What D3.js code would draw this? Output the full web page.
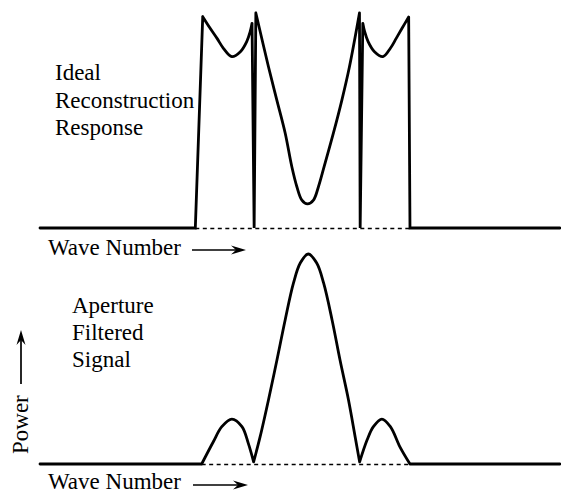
<!DOCTYPE html>
<html>
<head>
<meta charset="utf-8">
<script src="https://cdn.jsdelivr.net/npm/d3@7"></script>
<style>
  body { margin: 0; background: #fff; }
</style>
</head>
<body>
<div id="chart"></div>
<script>
/* ---------- data (wave number in units of the first filter null) ---------- */

var waveRange = [-5.04, 4.77];

// ideal reconstruction response
var reconEdges  = [-2.11, 1.94];   // band edges, where the response jumps off the baseline
var reconNulls  = [-1.0, 1.0];     // spikes that drop back to the baseline
var reconLeftLobe = [
  [-1.97, 0.983], [-1.83, 0.929], [-1.70, 0.882], [-1.58, 0.836], [-1.42, 0.797],
  [-1.26, 0.820], [-1.14, 0.867], [-1.075, 0.913], [-1.04, 0.952]
];
var reconCentre = [
  [-0.968, 1.0], [-0.73, 0.75], [-0.572, 0.595], [-0.415, 0.442], [-0.289, 0.285],
  [-0.194, 0.192], [-0.1, 0.13], [0.006, 0.112], [0.119, 0.13], [0.213, 0.192],
  [0.32, 0.285], [0.496, 0.442], [0.655, 0.595], [0.798, 0.75], [0.987, 1.0]
];
var reconRightLobe = [
  [1.05, 0.952], [1.085, 0.913], [1.15, 0.867], [1.27, 0.820], [1.43, 0.797],
  [1.57, 0.836], [1.68, 0.882], [1.79, 0.929], [1.915, 0.981]
];

// aperture filtered signal
var signalEdges = [-1.99, 1.94];
var signalLeftLobe = [
  [-1.99, 0], [-1.77, 0.106], [-1.61, 0.178], [-1.42, 0.214],
  [-1.23, 0.178], [-1.11, 0.098], [-1.01, 0.01]
];
var signalMainLobe = [
  [-1.01, 0.01], [-0.887, 0.13], [-0.73, 0.305], [-0.57, 0.495], [-0.415, 0.686],
  [-0.26, 0.86], [-0.13, 0.957], [0.02, 1.0], [0.18, 0.957], [0.31, 0.862],
  [0.47, 0.686], [0.62, 0.495], [0.78, 0.305], [0.905, 0.13], [0.99, 0.01]
];
var signalRightLobe = [
  [0.99, 0.01], [1.13, 0.114], [1.25, 0.178], [1.41, 0.214],
  [1.57, 0.178], [1.75, 0.082], [1.94, 0]
];

var reconLabel  = ["Ideal", "Reconstruction", "Response"];
var signalLabel = ["Aperture", "Filtered", "Signal"];

/* ---------- scales ---------- */

var width = 561, height = 493;
var serif = "'Liberation Serif', 'Times New Roman', Times, 'DejaVu Serif', serif";

var x = d3.scaleLinear().domain(waveRange).range([40, 560]);
var yTop = d3.scaleLinear().domain([0, 1]).range([228, 13]);
var yBot = d3.scaleLinear().domain([0, 1]).range([464, 254]);

var svg = d3.select("#chart").append("svg")
  .attr("width", width)
  .attr("height", height)
  .style("background", "#fff");

/* ---------- drawing helpers ---------- */

// draw a trace made of pieces; smooth pieces use a spline, the rest are straight
function draw_trace(pieces, y) {
  var ctx = d3.path();
  pieces.forEach(function(p) {
    d3.line()
      .x(function(d) { return x(d[0]); })
      .y(function(d) { return y(d[1]); })
      .curve(p.smooth ? d3.curveCatmullRom.alpha(0.5) : d3.curveLinear)
      .context(ctx)(p.pts);
  });
  svg.append("path")
    .attr("d", ctx.toString())
    .attr("fill", "none")
    .attr("stroke", "#000")
    .attr("stroke-width", 2.8)
    .attr("stroke-linecap", "round")
    .attr("stroke-linejoin", "miter");
}

function draw_dashed(edges, y) {
  svg.append("line")
    .attr("x1", x(edges[0])).attr("x2", x(edges[1]))
    .attr("y1", y(0) + 0.5).attr("y2", y(0) + 0.5)
    .attr("stroke", "#000")
    .attr("stroke-width", 1.5)
    .attr("stroke-dasharray", "4,3.5");
}

// thin arrow with a barbed head, tip at (x2, y2)
function draw_arrow(x1, y1, x2, y2) {
  var a = Math.atan2(y2 - y1, x2 - x1);
  var g = svg.append("g")
    .attr("transform", "translate(" + x2 + "," + y2 + ") rotate(" + (a * 180 / Math.PI) + ")");
  var len = Math.hypot(x2 - x1, y2 - y1);
  g.append("line")
    .attr("x1", -len).attr("x2", -8).attr("y1", 0).attr("y2", 0)
    .attr("stroke", "#000").attr("stroke-width", 1.7);
  g.append("path")
    .attr("d", "M0,0 L-15,-4.5 L-10,0 L-15,4.5 Z")
    .attr("fill", "#000");
}

function add_text(x0, y0, s) {
  return svg.append("text")
    .attr("x", x0).attr("y", y0)
    .attr("font-family", serif)
    .attr("font-size", 23)
    .attr("fill", "#000")
    .text(s);
}

/* ---------- top panel: ideal reconstruction response ---------- */

draw_dashed(reconEdges, yTop);

draw_trace([
  { smooth: false, pts: [[waveRange[0], 0], [reconEdges[0], 0], reconLeftLobe[0]] },
  { smooth: true,  pts: reconLeftLobe },
  { smooth: false, pts: [reconLeftLobe[reconLeftLobe.length - 1], [reconNulls[0], 0], reconCentre[0]] },
  { smooth: true,  pts: reconCentre },
  { smooth: false, pts: [reconCentre[reconCentre.length - 1], [reconNulls[1], 0], reconRightLobe[0]] },
  { smooth: true,  pts: reconRightLobe },
  { smooth: false, pts: [reconRightLobe[reconRightLobe.length - 1], [reconEdges[1], 0], [waveRange[1], 0]] }
], yTop);

reconLabel.forEach(function(d, i) { add_text(55, 80 + i * 27.5, d); });

add_text(48, 255, "Wave Number");
draw_arrow(192, 250, 246, 250);

/* ---------- bottom panel: aperture filtered signal ---------- */

draw_dashed(signalEdges, yBot);

draw_trace([
  { smooth: false, pts: [[waveRange[0], 0], [signalEdges[0], 0]] },
  { smooth: true,  pts: signalLeftLobe },
  { smooth: true,  pts: signalMainLobe },
  { smooth: true,  pts: signalRightLobe },
  { smooth: false, pts: [[signalEdges[1], 0], [waveRange[1], 0]] }
], yBot);

signalLabel.forEach(function(d, i) { add_text(72, 313 + i * 27, d); });

add_text(48, 489, "Wave Number");
draw_arrow(193, 485, 248, 485);

// y axis label
add_text(0, 0, "Power").attr("x", null).attr("y", null)
  .attr("transform", "translate(28,454) rotate(-90)");
draw_arrow(21, 384, 21, 330);
</script>
</body>
</html>
